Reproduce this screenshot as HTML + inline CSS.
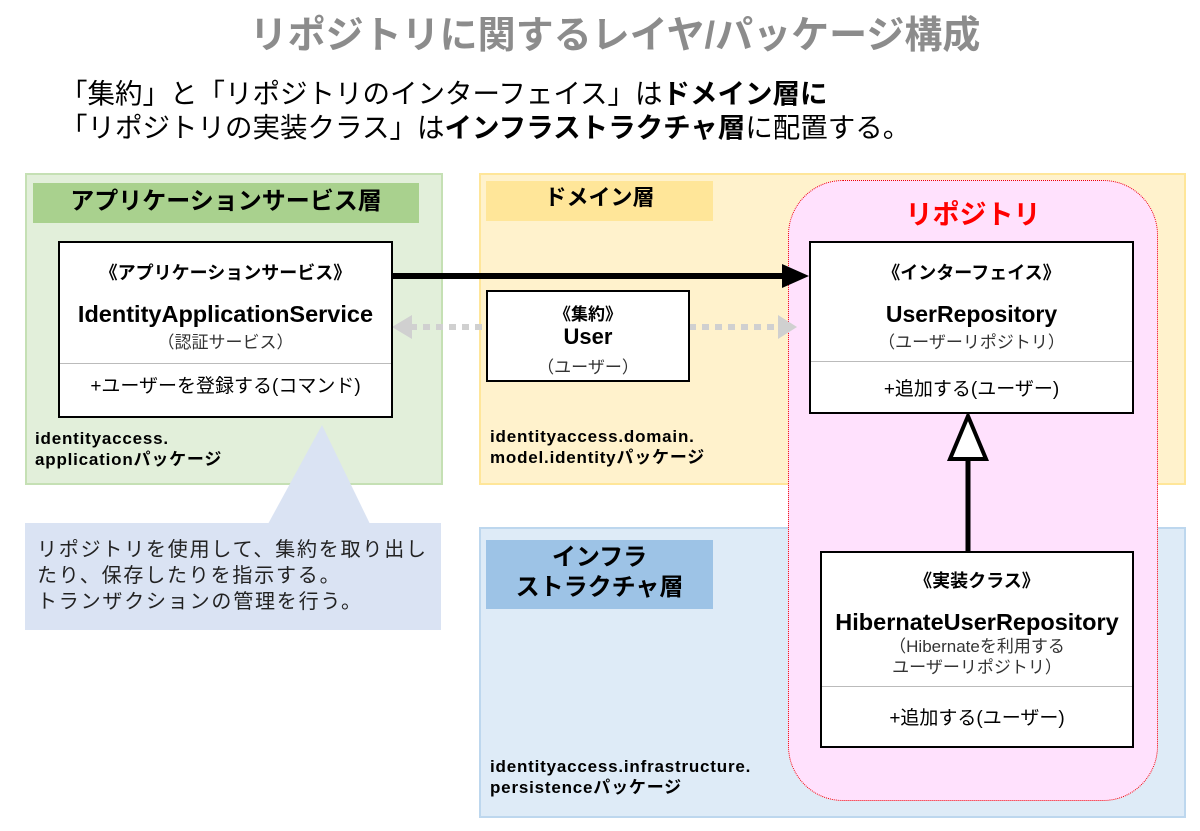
<!DOCTYPE html>
<html><head><meta charset="utf-8"><style>
body{margin:0;width:1200px;height:831px;background:#fff;position:relative;overflow:hidden;font-family:"Liberation Sans","Noto Sans CJK JP",sans-serif;color:#000}
.a{position:absolute;box-sizing:border-box}
.c{text-align:center}
.box{background:#fff;border:2px solid #000}
.b{font-weight:bold}
.pk{font-size:17px;line-height:21px;letter-spacing:0.8px;font-weight:bold}
</style></head><body>
<div class="a c b" style="left:0;top:4px;width:1230px;font-size:38px;color:#8c8c8c">リポジトリに関するレイヤ/パッケージ構成</div>
<div class="a" style="left:60px;top:77px;font-size:27.5px;line-height:34px">「集約」と「リポジトリのインターフェイス」は<b>ドメイン層に</b><br>「リポジトリの実装クラス」は<b>インフラストラクチャ層</b>に配置する。</div>

<div class="a" style="left:25px;top:173px;width:418px;height:312px;background:#e2efda;border:2px solid #c5e0b4"></div>
<div class="a c b" style="left:33px;top:183px;width:386px;height:40px;background:#a9d18e;font-size:24px;line-height:38px">アプリケーションサービス層</div>
<div class="a pk" style="left:35px;top:428px">identityaccess.<br>applicationパッケージ</div>

<div class="a" style="left:479px;top:173px;width:707px;height:312px;background:#fff2cc;border:2px solid #ffe699"></div>
<div class="a c b" style="left:486px;top:181px;width:227px;height:40px;background:#ffe699;font-size:22px;line-height:34px">ドメイン層</div>
<div class="a pk" style="left:490px;top:426px">identityaccess.domain.<br>model.identityパッケージ</div>

<div class="a" style="left:479px;top:527px;width:707px;height:291px;background:#deebf7;border:2px solid #bdd7ee"></div>
<div class="a c b" style="left:486px;top:540px;width:227px;height:69px;background:#9dc3e6;font-size:24px;line-height:30px;padding-top:3px">インフラ<br>ストラクチャ層</div>
<div class="a pk" style="left:490px;top:756px">identityaccess.infrastructure.<br>persistenceパッケージ</div>

<div class="a" style="left:788px;top:180px;width:370px;height:621px;background:#ffe1fd;border:1.5px dotted #e00;border-radius:55px"></div>
<div class="a c b" style="left:788px;top:193px;width:370px;font-size:27px;color:#ff0000">リポジトリ</div>

<div class="a" style="left:25px;top:523px;width:416px;height:107px;background:#dae3f3;font-size:20px;line-height:26px;letter-spacing:1.8px;padding:14px 0 0 12px;color:#222;white-space:nowrap">リポジトリを使用して、集約を取り出し<br>たり、保存したりを指示する。<br>トランザクションの管理を行う。</div>

<svg class="a" style="left:0;top:0" width="1200" height="831">
<polygon points="322,425 268,524 370,524" fill="#dae3f3"/>
<line x1="392" y1="276" x2="790" y2="276" stroke="#000" stroke-width="6"/>
<polygon points="809,276 782,264 782,288" fill="#000"/>
<line x1="410" y1="327" x2="486" y2="327" stroke="#d0d0d0" stroke-width="6" stroke-dasharray="7,6"/>
<polygon points="392,327 412,315 412,339" fill="#d0d0d0"/>
<line x1="689" y1="327" x2="780" y2="327" stroke="#d0d0d0" stroke-width="6" stroke-dasharray="7,6"/>
<polygon points="797,327 778,315 778,339" fill="#d0d0d0"/>
<line x1="968" y1="460" x2="968" y2="551" stroke="#000" stroke-width="5"/>
<polygon points="968,416 950,459 986,459" fill="#fff" stroke="#000" stroke-width="4"/>
</svg>

<div class="a box c" style="left:58px;top:241px;width:335px;height:177px">
<div class="b" style="font-size:18px;margin-top:16px">《アプリケーションサービス》</div>
<div class="b" style="font-size:23.5px;margin-top:16px">IdentityApplicationService</div>
<div style="font-size:17px;color:#333">（認証サービス）</div>
<div style="border-top:1px solid #bbb;margin-top:10px;padding-top:7px;font-size:19px">+ユーザーを登録する(コマンド)</div>
</div>

<div class="a box c" style="left:486px;top:290px;width:204px;height:92px">
<div class="b" style="font-size:17px;margin-top:8px">《集約》</div>
<div class="b" style="font-size:22px;line-height:24px">User</div>
<div style="font-size:17px;color:#333;margin-top:4px">（ユーザー）</div>
</div>

<div class="a box c" style="left:809px;top:241px;width:325px;height:173px">
<div class="b" style="font-size:18px;margin-top:16px">《インターフェイス》</div>
<div class="b" style="font-size:23px;margin-top:16px">UserRepository</div>
<div style="font-size:17px;color:#333">（ユーザーリポジトリ）</div>
<div style="border-top:1px solid #bbb;margin-top:8px;padding-top:12px;font-size:19px">+追加する(ユーザー)</div>
</div>

<div class="a box c" style="left:820px;top:551px;width:314px;height:197px">
<div class="b" style="font-size:18px;margin-top:14px">《実装クラス》</div>
<div class="b" style="font-size:23.5px;margin-top:16px">HibernateUserRepository</div>
<div style="font-size:17px;color:#333;line-height:21px">（Hibernateを利用する<br>ユーザーリポジトリ）</div>
<div style="border-top:1px solid #bbb;margin-top:8px;padding-top:16px;font-size:19px">+追加する(ユーザー)</div>
</div>
</body></html>
